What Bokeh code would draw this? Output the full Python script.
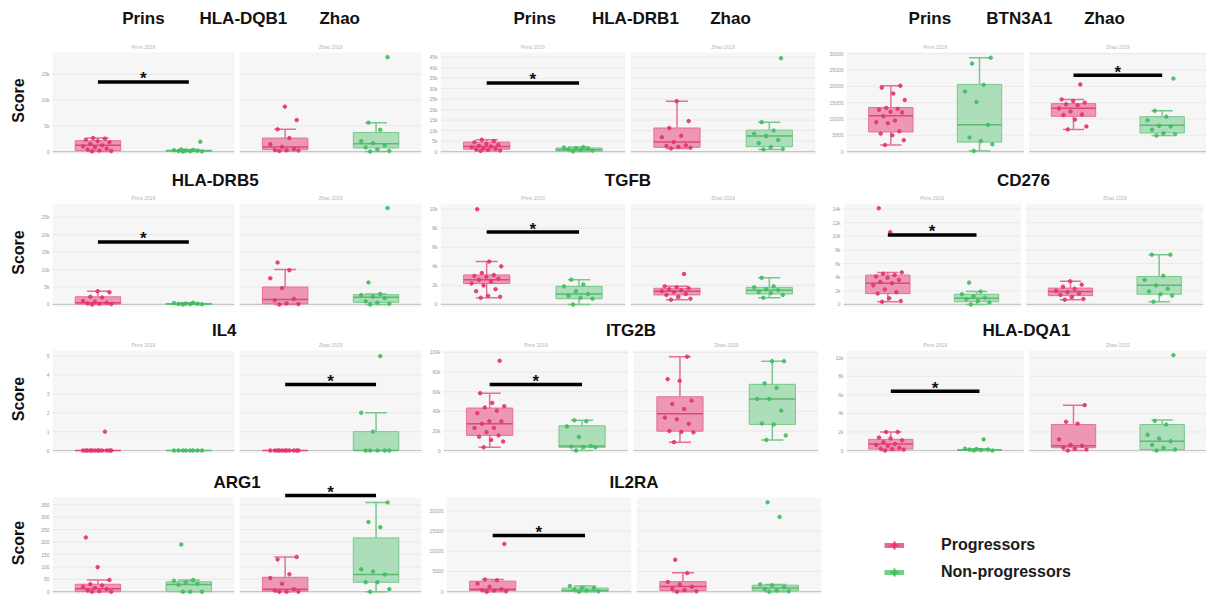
import math
from bokeh.plotting import figure
from bokeh.layouts import row, column
from bokeh.models import Range1d, Label, Legend, LegendItem, ColumnDataSource
from bokeh.core.properties import value
from bokeh.embed import file_html
from bokeh.resources import INLINE

# ---------------- data ----------------
cohorts = ["Prins", "Zhao"]
groups = ["Progressors", "Non-progressors"]
subtitles = ["Prins 2019", "Zhao 2019"]
y_title = "Score"

# each *_box row: [lower whisker, q1, median, q3, upper whisker]
# row order: Prins-Progressors, Prins-Non-progressors, Zhao-Progressors, Zhao-Non-progressors
dqb1_ticks = [0, 5000, 10000, 15000]
dqb1_labels = ["0", "5k", "10k", "15k"]
dqb1_ymax = 19200
dqb1_box = [[0, 150, 1200, 2100, 2600], [0, 50, 150, 250, 400],
            [100, 350, 900, 2600, 4300], [0, 700, 1500, 3700, 5600]]
dqb1_pts = [[50, 100, 200, 400, 600, 800, 1000, 1200, 1500, 1800, 2000, 2300, 2500, 2600],
            [0, 30, 60, 100, 150, 200, 250, 300, 400, 1900],
            [100, 200, 250, 300, 500, 900, 1400, 2600, 4300, 6100, 8700],
            [0, 100, 400, 800, 1200, 1600, 2000, 4200, 5600, 18300]]

drb1_ticks = [0, 5000, 10000, 15000, 20000, 25000, 30000, 35000, 40000, 45000]
drb1_labels = ["0", "5k", "10k", "15k", "20k", "25k", "30k", "35k", "40k", "45k"]
drb1_ymax = 47200
drb1_box = [[200, 1100, 2400, 4500, 5600], [0, 200, 900, 1700, 2100],
            [1500, 2000, 4500, 11200, 24000], [1000, 2300, 7400, 10200, 14000]]
drb1_pts = [[300, 500, 800, 1000, 1300, 1600, 2000, 2400, 2700, 3200, 3600, 4400, 5000, 5600],
            [100, 400, 700, 1000, 1300, 1600, 1900, 2100],
            [1500, 1800, 2300, 2700, 3000, 4500, 6800, 7500, 11200, 14500, 24000],
            [1000, 1200, 2200, 4000, 5500, 7400, 8500, 10000, 14000, 44500]]

btn_ticks = [0, 5000, 10000, 15000, 20000, 25000, 30000]
btn_labels = ["0", "5000", "10000", "15000", "20000", "25000", "30000"]
btn_ymax = 30400
btn_box = [[2000, 6000, 11000, 13500, 20200], [200, 2900, 8200, 20600, 28800],
           [6800, 10800, 13300, 14700, 16000], [4900, 5700, 8100, 10700, 12500]]
btn_pts = [[2000, 3500, 5000, 5500, 6200, 8700, 9000, 9500, 10800, 12000, 12200, 12800, 13100, 13400, 15800, 17800, 19600, 20200],
           [200, 2200, 3200, 4300, 8200, 15200, 18400, 20500, 27000, 28800],
           [6800, 7700, 9800, 11200, 11400, 12300, 13200, 14200, 14500, 15000, 15500, 16000, 20600],
           [4900, 5300, 5600, 6700, 7700, 7900, 9600, 10700, 12500, 22400]]

drb5_ticks = [0, 5000, 10000, 15000, 20000, 25000]
drb5_labels = ["0", "5k", "10k", "15k", "20k", "25k"]
drb5_ymax = 28900
drb5_box = [[0, 100, 500, 2200, 3800], [0, 0, 150, 300, 500],
            [0, 200, 1400, 5000, 10000], [0, 600, 2100, 2800, 3000]]
drb5_pts = [[0, 100, 200, 300, 500, 800, 1000, 2000, 2200, 3500, 3800],
            [0, 50, 100, 150, 200, 300, 400, 500],
            [0, 100, 300, 1200, 1600, 4700, 7500, 9800, 12000],
            [0, 200, 500, 900, 1800, 2200, 2700, 3000, 6300, 27600]]

tgfb_ticks = [0, 2000, 4000, 6000, 8000, 10000]
tgfb_labels = ["0", "2k", "4k", "6k", "8k", "10k"]
tgfb_ymax = 10600
tgfb_box = [[700, 2200, 2600, 3100, 4500], [0, 600, 1100, 1900, 2600],
            [500, 1000, 1400, 1700, 1900], [700, 1100, 1500, 1800, 2800]]
tgfb_pts = [[700, 800, 900, 1400, 1600, 2000, 2200, 2400, 2600, 2700, 2900, 3000, 3100, 3300, 4000, 4500, 10000],
            [0, 600, 700, 900, 1100, 1400, 1900, 2100, 2600],
            [500, 600, 800, 1000, 1100, 1300, 1400, 1500, 1600, 1700, 1800, 1900, 3200],
            [700, 1000, 1200, 1300, 1500, 1600, 1800, 1900, 2800]]

cd276_ticks = [0, 2000, 4000, 6000, 8000, 10000, 12000, 14000]
cd276_labels = ["0", "2k", "4k", "6k", "8k", "10k", "12k", "14k"]
cd276_ymax = 14800
cd276_box = [[400, 1600, 3100, 4300, 4700], [0, 400, 900, 1500, 1900],
             [700, 1300, 1900, 2400, 3400], [400, 1500, 2800, 4100, 7300]]
cd276_pts = [[400, 500, 900, 1600, 1800, 2200, 2800, 3100, 3300, 3600, 3900, 4100, 4300, 4500, 4700, 10600, 14100],
             [0, 300, 500, 800, 1000, 1200, 1500, 1900, 3200],
             [700, 800, 1100, 1400, 1600, 1800, 2000, 2300, 2600, 2900, 3400],
             [400, 1300, 1500, 1900, 2300, 2800, 3600, 4200, 7300, 7300]]

il4_ticks = [0, 1, 2, 3, 4, 5]
il4_labels = ["0", "1", "2", "3", "4", "5"]
il4_ymax = 5.3
il4_box = [[0, 0, 0, 0, 0], [0, 0, 0, 0, 0], [0, 0, 0, 0, 0], [0, 0, 0, 1, 2]]
il4_pts = [[0, 0, 0, 0, 0, 0, 0, 0, 0, 0, 0, 0, 1],
           [0, 0, 0, 0, 0, 0, 0, 0],
           [0, 0, 0, 0, 0, 0, 0, 0, 0, 0, 0],
           [0, 0, 0, 0, 0, 1, 2, 5]]

itg_ticks = [0, 20000, 40000, 60000, 80000, 100000]
itg_labels = ["0", "20k", "40k", "60k", "80k", "100k"]
itg_ymax = 102000
itg_box = [[3300, 15400, 27200, 43300, 58400], [0, 3300, 4600, 25200, 30800],
           [8500, 19700, 37400, 54800, 95700], [10800, 26600, 52500, 67500, 91100]]
itg_pts = [[3300, 9200, 10800, 14100, 15400, 18700, 23000, 23000, 27200, 29800, 29800, 38000, 40600, 43900, 45200, 48500, 58400, 91500],
           [0, 3300, 3500, 4000, 4600, 13800, 24600, 29800, 30800],
           [8500, 18500, 19000, 20000, 27200, 31800, 33500, 42300, 47500, 50800, 71100, 72800, 95700],
           [10800, 15400, 26600, 27500, 40700, 52500, 52500, 63900, 68500, 91100, 91100]]

dqa1_ticks = [0, 2000, 4000, 6000, 8000, 10000]
dqa1_labels = ["0", "2k", "4k", "6k", "8k", "10k"]
dqa1_ymax = 10800
dqa1_box = [[0, 150, 700, 1200, 2000], [0, 0, 50, 100, 200],
            [0, 300, 500, 2800, 4900], [0, 100, 1000, 2800, 3300]]
dqa1_pts = [[0, 100, 150, 200, 300, 500, 600, 700, 900, 1100, 1300, 1400, 2000, 2000],
            [0, 0, 50, 100, 100, 150, 200, 1200],
            [0, 100, 200, 300, 500, 600, 1200, 2900, 3100, 4900],
            [0, 100, 300, 600, 1000, 1300, 1700, 2800, 3200, 10300]]

arg1_ticks = [0, 50, 100, 150, 200, 250, 300, 350]
arg1_labels = ["0", "50", "100", "150", "200", "250", "300", "350"]
arg1_ymax = 380
arg1_box = [[0, 0, 12, 30, 47], [0, 0, 29, 40, 47],
            [0, 2, 10, 58, 140], [0, 38, 69, 217, 360]]
arg1_pts = [[0, 0, 2, 5, 10, 15, 20, 25, 30, 47, 99, 219],
            [0, 0, 0, 28, 32, 38, 44, 47, 190],
            [0, 0, 0, 5, 10, 32, 55, 70, 130, 140],
            [0, 10, 38, 38, 69, 81, 90, 260, 281, 360]]

il2ra_ticks = [0, 5000, 10000, 15000, 20000]
il2ra_labels = ["0", "5000", "10000", "15000", "20000"]
il2ra_ymax = 23300
il2ra_box = [[0, 300, 600, 2600, 3000], [0, 50, 300, 900, 1400],
             [0, 300, 1300, 2500, 4700], [0, 200, 900, 1600, 1800]]
il2ra_pts = [[0, 100, 300, 400, 600, 1200, 2000, 2800, 3000, 11800],
             [0, 100, 300, 600, 900, 1000, 1400],
             [0, 100, 400, 700, 1200, 1800, 2400, 4600, 7900],
             [0, 100, 300, 600, 1100, 1600, 1800, 18500, 22100]]

# significance (p < 0.05) brackets
sig_gene = ["HLA-DQB1", "HLA-DRB1", "BTN3A1", "HLA-DRB5", "TGFB", "CD276", "IL4", "ITG2B", "HLA-DQA1", "ARG1", "IL2RA"]
sig_cohort = ["Prins", "Prins", "Zhao", "Prins", "Prins", "Prins", "Zhao", "Prins", "Prins", "Zhao", "Prins"]
sig_y = [13500, 32700, 23400, 17900, 7600, 10200, 3.5, 67200, 6400, 388, 13900]

GENES = {
    "HLA-DQB1": (dqb1_ticks, dqb1_labels, dqb1_ymax, dqb1_box, dqb1_pts),
    "HLA-DRB1": (drb1_ticks, drb1_labels, drb1_ymax, drb1_box, drb1_pts),
    "BTN3A1": (btn_ticks, btn_labels, btn_ymax, btn_box, btn_pts),
    "HLA-DRB5": (drb5_ticks, drb5_labels, drb5_ymax, drb5_box, drb5_pts),
    "TGFB": (tgfb_ticks, tgfb_labels, tgfb_ymax, tgfb_box, tgfb_pts),
    "CD276": (cd276_ticks, cd276_labels, cd276_ymax, cd276_box, cd276_pts),
    "IL4": (il4_ticks, il4_labels, il4_ymax, il4_box, il4_pts),
    "ITG2B": (itg_ticks, itg_labels, itg_ymax, itg_box, itg_pts),
    "HLA-DQA1": (dqa1_ticks, dqa1_labels, dqa1_ymax, dqa1_box, dqa1_pts),
    "ARG1": (arg1_ticks, arg1_labels, arg1_ymax, arg1_box, arg1_pts),
    "IL2RA": (il2ra_ticks, il2ra_labels, il2ra_ymax, il2ra_box, il2ra_pts),
}
GRID = [["HLA-DQB1", "HLA-DRB1", "BTN3A1"],
        ["HLA-DRB5", "TGFB", "CD276"],
        ["IL4", "ITG2B", "HLA-DQA1"],
        ["ARG1", "IL2RA", None]]

# ---------------- styling / layout ----------------
FONT = "Liberation Sans"
PINK_PT, PINK_FILL, PINK_LINE, PINK_MED = "#e4346e", "#ec86a8", "#e56e9c", "#da4a7e"
GREEN_PT, GREEN_FILL, GREEN_LINE, GREEN_MED = "#41bf60", "#9fd9ae", "#78c78c", "#5cb872"
BG, GRIDC, AXC = "#f6f6f6", "#e9e9e9", "#c6c6c6"
GAP = 0.06
HW, CAP = 0.25, 0.12
CENTERS = [0.5, 1.5, 2.5 + GAP, 3.5 + GAP]
PANEL_L = [0, 2 + GAP]
PANEL_R = [2, 4 + GAP]
PT_COL = [PINK_PT, GREEN_PT, PINK_PT, GREEN_PT]
FILL_COL = [PINK_FILL, GREEN_FILL, PINK_FILL, GREEN_FILL]
LINE_COL = [PINK_LINE, GREEN_LINE, PINK_LINE, GREEN_LINE]
MED_COL = [PINK_MED, GREEN_MED, PINK_MED, GREEN_MED]

# per row: space above the panel (titles), panel height, bottom border
ROWS = [(52, 102, 6), (43, 104, 5), (38, 103, 7), (37, 97, 2)]
# per column: left border, frame width, right border
COLS = [(14, 369, 5), (14, 375, 11), (17, 360, 1)]
SCORE_W = 38
TITLE_OFF = [34, 23, 20, 15]
HEAD_X = [[1.0, 2.1, 3.16], [1.02, 2.11, 3.14], [0.94, 1.95, 2.91]]   # header positions, row 1
TITLE_X = {"HLA-DRB5": 1.79, "IL4": 1.89}


def base_fig(fw, fh, L, R, B, xr, yr, yaxis=True):
    p = figure(frame_width=fw, frame_height=fh, min_border_left=L, min_border_right=R,
               min_border_top=0, min_border_bottom=B, x_range=xr, y_range=yr,
               x_axis_location=None, y_axis_location="left" if yaxis else None,
               output_backend="svg", toolbar_location=None, title=None)
    p.outline_line_color = None
    p.background_fill_color = "white"
    p.border_fill_color = "white"
    p.xgrid.visible = False
    p.ygrid.visible = False
    return p


def score_fig(ri):
    T, fh, B = ROWS[ri]
    p = base_fig(SCORE_W, T + fh, 0, 0, B, Range1d(0, SCORE_W), Range1d(0, T + fh), yaxis=False)
    p.text(x=[18], y=[fh / 2 + 3], text=[y_title], angle=math.pi / 2, text_align="center",
           text_baseline="middle", text_font=value(FONT), text_font_size="16px",
           text_font_style="bold", text_color="#111111")
    return p


def gene_fig(gene, ri, ci):
    ticks, labels, ymax, box, pts = GENES[gene]
    T, fh, B = ROWS[ri]
    L, fw, R = COLS[ci]
    ymin = -0.03 * ymax
    ytop = ymax + (ymax - ymin) * T / fh
    p = base_fig(fw, T + fh, L, R, B, Range1d(0, 4 + GAP), Range1d(ymin, ytop))
    ax = p.yaxis[0]
    ax.ticker = ticks
    ax.major_label_overrides = {t: l for t, l in zip(ticks, labels)}
    ax.major_label_text_font_size = "5px"
    ax.major_label_text_color = "#9a9a9a"
    ax.major_label_text_font = FONT
    ax.major_label_standoff = 3
    ax.major_tick_out = 0
    ax.major_tick_in = 0
    ax.minor_tick_out = 0
    ax.minor_tick_in = 0
    ax.axis_line_color = None
    ax.major_tick_line_color = None
    ax.minor_tick_line_color = None

    # panel backgrounds, grid lines, baseline
    p.quad(left=PANEL_L, right=PANEL_R, bottom=ymin, top=ymax, fill_color=BG, line_color=None)
    gx0, gx1, gy = [], [], []
    for t in ticks[1:]:
        for a, b in zip(PANEL_L, PANEL_R):
            gx0.append(a); gx1.append(b); gy.append(t)
    p.segment(x0=gx0, y0=gy, x1=gx1, y1=gy, line_color=GRIDC, line_width=1)
    p.segment(x0=PANEL_L, y0=[0, 0], x1=PANEL_R, y1=[0, 0], line_color=AXC, line_width=1.2)

    lo = [b[0] for b in box]; q1 = [b[1] for b in box]; md = [b[2] for b in box]
    q3 = [b[3] for b in box]; hi = [b[4] for b in box]
    src = ColumnDataSource(dict(c=CENTERS, l=[c - HW for c in CENTERS], r=[c + HW for c in CENTERS],
                                cl=[c - CAP for c in CENTERS], cr=[c + CAP for c in CENTERS],
                                lo=lo, q1=q1, md=md, q3=q3, hi=hi,
                                fill=FILL_COL, line=LINE_COL, med=MED_COL))
    p.segment(x0="c", y0="lo", x1="c", y1="q1", line_color="line", line_width=1.5, source=src)
    p.segment(x0="c", y0="q3", x1="c", y1="hi", line_color="line", line_width=1.5, source=src)
    p.segment(x0="cl", y0="hi", x1="cr", y1="hi", line_color="line", line_width=1.5, source=src)
    p.segment(x0="cl", y0="lo", x1="cr", y1="lo", line_color="line", line_width=1.5, source=src)
    p.quad(left="l", right="r", bottom="q1", top="q3", fill_color="fill", fill_alpha=0.85,
           line_color="line", line_width=1, source=src)
    p.segment(x0="l", y0="md", x1="r", y1="md", line_color="med", line_width=1.5, source=src)

    xs, ys, cs = [], [], []
    for k, vals in enumerate(pts):
        for i, v in enumerate(vals):
            xs.append(CENTERS[k] + 0.17 * (2 * ((i * 0.618034 + 0.31) % 1) - 1))
            ys.append(v)
            cs.append(PT_COL[k])
    p.scatter(x=xs, y=ys, color=cs, size=3.5, alpha=0.9)

    # significance bracket
    for g, c, y in zip(sig_gene, sig_cohort, sig_y):
        if g != gene:
            continue
        k = cohorts.index(c) * 2
        p.segment(x0=[CENTERS[k]], y0=[y], x1=[CENTERS[k + 1]], y1=[y], line_color="black", line_width=3.5)
        p.add_layout(Label(x=(CENTERS[k] + CENTERS[k + 1]) / 2, y=y, y_offset=3, text="*",
                           text_align="center", text_baseline="alphabetic", text_font=FONT,
                           text_font_size="17px", text_font_style="bold", text_color="#111111"))

    # titles
    off = TITLE_OFF[ri]

    def title(x, txt):
        p.add_layout(Label(x=x, y=ymax, y_offset=off, text=txt, text_align="center", text_baseline="middle",
                           text_font=FONT, text_font_size="17px", text_font_style="bold", text_color="#111111"))
    if ri == 0:
        hx = HEAD_X[ci]
        title(hx[0], cohorts[0])
        title(hx[1], gene)
        title(hx[2], cohorts[1])
    else:
        title(TITLE_X.get(gene, 2.0 + GAP / 2), gene)
    if ri < 3:
        for x, s in zip([1.0, 3.0 + GAP], subtitles):
            p.add_layout(Label(x=x, y=ymax, y_offset=3, text=s, text_align="center", text_baseline="bottom",
                               text_font=FONT, text_font_size="5px", text_color="#b5b5b5"))
    return p


def legend_fig(ri, ci):
    T, fh, B = ROWS[ri]
    L, fw, R = COLS[ci]
    p = base_fig(fw, T + fh, L, R, B, Range1d(0, 1), Range1d(0, 1), yaxis=False)
    items = []
    for g, col in zip(groups, [PINK_PT, GREEN_PT]):
        r1 = p.line(x=[float("nan")], y=[float("nan")], line_color=col, line_width=5, line_alpha=0.75)
        r2 = p.scatter(x=[float("nan")], y=[float("nan")], marker="cross", line_color=col,
                       line_width=2, size=10)
        items.append(LegendItem(label=g, renderers=[r1, r2]))
    lg = Legend(items=items, location=(35, 12), glyph_width=20, glyph_height=20, label_height=20,
                label_standoff=37, spacing=7, padding=0, margin=0, border_line_color=None,
                background_fill_alpha=0, label_text_font=FONT, label_text_font_size="16px",
                label_text_font_style="bold", label_text_color="#1a1a1a")
    p.add_layout(lg)
    return p


rows = []
for ri, names in enumerate(GRID):
    figs = [score_fig(ri)]
    for ci, g in enumerate(names):
        figs.append(gene_fig(g, ri, ci) if g else legend_fig(ri, ci))
    rows.append(row(*figs, spacing=0))
layout = column(*rows, spacing=0)

open("out.html", "w").write(file_html(layout, INLINE))
